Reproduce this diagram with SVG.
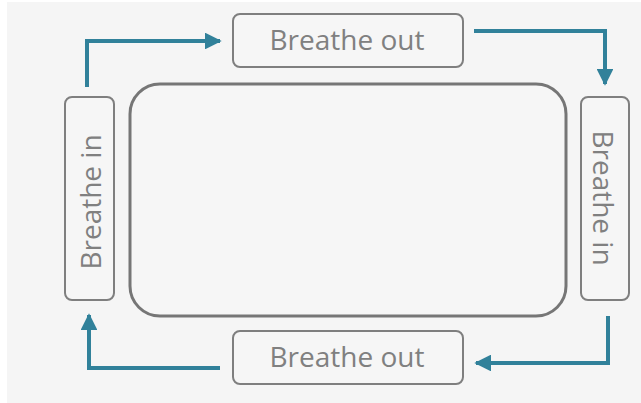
<svg xmlns="http://www.w3.org/2000/svg" width="641" height="403" viewBox="0 0 641 403">
  <defs>
    <style>
      .box { fill: #f6f6f6; stroke: #7f7f7f; stroke-width: 2; }
      .lbl { font-family: "Open Sans", "Liberation Sans", sans-serif; font-size: 28px; fill: #808080; text-anchor: middle; dominant-baseline: central; }
      .conn { fill: none; stroke: #31819a; stroke-width: 4; stroke-linejoin: miter; }
    </style>
    <marker id="ah" viewBox="0 0 10 10" refX="9" refY="5" markerWidth="4.2" markerHeight="4.2" markerUnits="strokeWidth" orient="auto">
      <path d="M0,0 L10,5 L0,10 z" fill="#31819a"/>
    </marker>
  </defs>
  <rect x="0" y="0" width="641" height="403" fill="#ffffff"/>
  <rect x="7" y="2" width="634" height="401" fill="#f5f5f5"/>

  <g id="center">
    <rect x="130" y="84" width="436" height="232" rx="30" ry="30" fill="#f6f6f6" stroke="#767676" stroke-width="3"/>
  </g>
  <g id="top-out">
    <rect class="box" x="233" y="14" width="230" height="53" rx="7" ry="7"/>
    <text class="lbl" x="347" y="39">Breathe out</text>
  </g>
  <g id="bottom-out">
    <rect class="box" x="233" y="331" width="230" height="53" rx="7" ry="7"/>
    <text class="lbl" x="347" y="356">Breathe out</text>
  </g>
  <g id="left-in">
    <rect class="box" x="65" y="97" width="49" height="203" rx="7" ry="7"/>
    <text class="lbl" transform="translate(90,202) rotate(-90)" x="0" y="0">Breathe in</text>
  </g>
  <g id="right-in">
    <rect class="box" x="581" y="97" width="48" height="203" rx="7" ry="7"/>
    <text class="lbl" transform="translate(604,198) rotate(90)" x="0" y="0">Breathe in</text>
  </g>

  <g id="connectors">
    <path class="conn" d="M87,87 V41 H220" marker-end="url(#ah)"/>
    <path class="conn" d="M474,31 H605 V84" marker-end="url(#ah)"/>
    <path class="conn" d="M608,316 V363 H476" marker-end="url(#ah)"/>
    <path class="conn" d="M220,368 H89 V315" marker-end="url(#ah)"/>
  </g>
</svg>
